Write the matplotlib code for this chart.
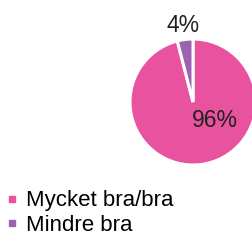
import matplotlib
matplotlib.use("Agg")
import matplotlib.pyplot as plt
from matplotlib.lines import Line2D

plt.rcParams['font.family'] = ['Liberation Sans', 'DejaVu Sans']

# data
labels = ['Mycket bra/bra', 'Mindre bra']
values = [96, 4]
pct_text = ['96%', '4%']
colors = ['#E8529E', '#9C62AE']

W, H = 252, 242
fig = plt.figure(figsize=(W / 100, H / 100), dpi=100)

# pie centre ~ (193, 102) px, radius ~63 px
r_px = 63
lim = 1.25
cx, cy = 193, 102
side = 2 * r_px * lim
ax = fig.add_axes([(cx - side / 2) / W, (H - cy - side / 2) / H, side / W, side / H])
ax.pie(values, colors=colors, startangle=90, counterclock=False,
       wedgeprops=dict(edgecolor='white', linewidth=2.2))
ax.set_xlim(-lim, lim)
ax.set_ylim(-lim, lim)
ax.set_aspect('equal')

# percentage labels
ax.text(0.34, -0.29, pct_text[0], fontsize=16.5, ha='center', va='center', color='#222222')
ax.text(-0.15, 1.22, pct_text[1], fontsize=16.5, ha='center', va='center', color='#222222')

handles = [Line2D([], [], marker='s', linestyle='none', markersize=5,
                  markerfacecolor=c, markeredgecolor=c) for c in colors]
fig.legend(handles, labels, loc='upper left', bbox_to_anchor=(0.005, 1 - 186 / H),
           frameon=False, fontsize=16, handlelength=0.6, handletextpad=0.32,
           labelspacing=0.16, borderaxespad=0, borderpad=0.2)

fig.savefig('out.png', dpi=100)
